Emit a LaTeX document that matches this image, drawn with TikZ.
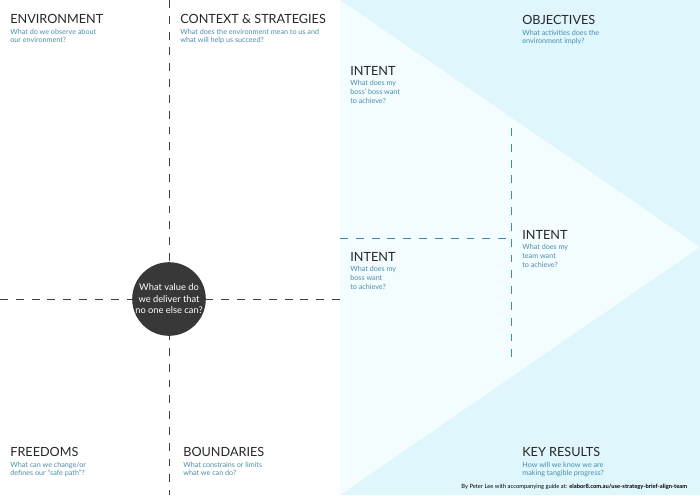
\documentclass[tikz,border=0pt]{standalone}
\usepackage{fontspec}
\setmainfont{Lato}
\usetikzlibrary{positioning}
\definecolor{skyDark}{HTML}{DFF6FD}
\definecolor{skyLight}{HTML}{F3FCFF}
\definecolor{hintBlue}{HTML}{4A8DAA}
\definecolor{lineBlue}{HTML}{3A8DB0}
\definecolor{discGrey}{HTML}{383838}
\tikzset{
  title/.style={anchor=north west, inner sep=0pt, font=\fontsize{7.2}{8.5}\selectfont, text=black!85},
  hint/.style={below=2.5pt of #1.south west, anchor=north west, inner sep=0pt, align=left,
    font=\fontsize{4.1}{5.1}\selectfont, text=hintBlue},
  splitLine/.style={dash pattern=on 4.5pt off 4.5pt, line width=0.5pt},
}
\begin{document}
\begin{tikzpicture}[x=0.02cm,y=-0.02cm]
        \useasboundingbox (0,0) rectangle (700,495);
        \coordinate (topMid) at (340,0);
        \coordinate (apex) at (700,247);
        \coordinate (botMid) at (340,495);

        \fill [skyDark] (topMid) rectangle (700,495);
        \fill [skyLight] (topMid) -- (apex) -- (botMid) -- cycle;

        % black cross through the centre disc
        \coordinate (vTop) at (169,0);
        \coordinate (vBot) at (169,495);
        \coordinate (hLeft) at (0,299);
        \coordinate (hRight) at (340,299);
        \draw [splitLine, black!75] (vTop) -- (vBot);
        \draw [splitLine, black!75] (hLeft) -- (hRight);

        % blue split of the intent area
        \coordinate (iLeft) at (340,238);
        \coordinate (iRight) at (511,238);
        \coordinate (iTop) at (511,128);
        \coordinate (iBot) at (511,360);
        \draw [splitLine, lineBlue] (iLeft) -- (iRight);
        \draw [splitLine, lineBlue] (iTop) -- (iBot);

        \node (disc) [circle, fill=discGrey, minimum size=64*0.02cm, inner sep=0pt, align=center,
          text=white, font=\fontsize{5.3}{6.6}\selectfont] at (169,299)
          {What value do\\we deliver that\\no one else can?};

        \node (env) [title] at (10,14) {ENVIRONMENT};
        \node [hint=env] {What do we observe about\\our environment?};
        \node (ctx) [title] at (180,14) {CONTEXT \& STRATEGIES};
        \node [hint=ctx] {What does the environment mean to us and\\what will help us succeed?};
        \node (obj) [title] at (522,15) {OBJECTIVES};
        \node [hint=obj] {What activities does the\\environment imply?};
        \node (bossBoss) [title] at (350,66) {INTENT};
        \node [hint=bossBoss] {What does my\\boss' boss want\\to achieve?};
        \node (boss) [title] at (350,252) {INTENT};
        \node [hint=boss] {What does my\\boss want\\to achieve?};
        \node (team) [title] at (522,230) {INTENT};
        \node [hint=team] {What does my\\team want\\to achieve?};
        \node (free) [title] at (10,447) {FREEDOMS};
        \node [hint=free] {What can we change/or\\defines our ``safe path''?};
        \node (bound) [title] at (183,447) {BOUNDARIES};
        \node [hint=bound] {What constrains or limits\\what we can do?};
        \node (keys) [title] at (522,447) {KEY RESULTS};
        \node [hint=keys] {How will we know we are\\making tangible progress?};
        \node (credit) [anchor=west, inner sep=0pt, font=\fontsize{3.3}{4}\selectfont] at (461,487)
          {By Peter Lee with accompanying guide at: \textbf{elabor8.com.au/use-strategy-brief-align-team}};
\end{tikzpicture}
\end{document}
